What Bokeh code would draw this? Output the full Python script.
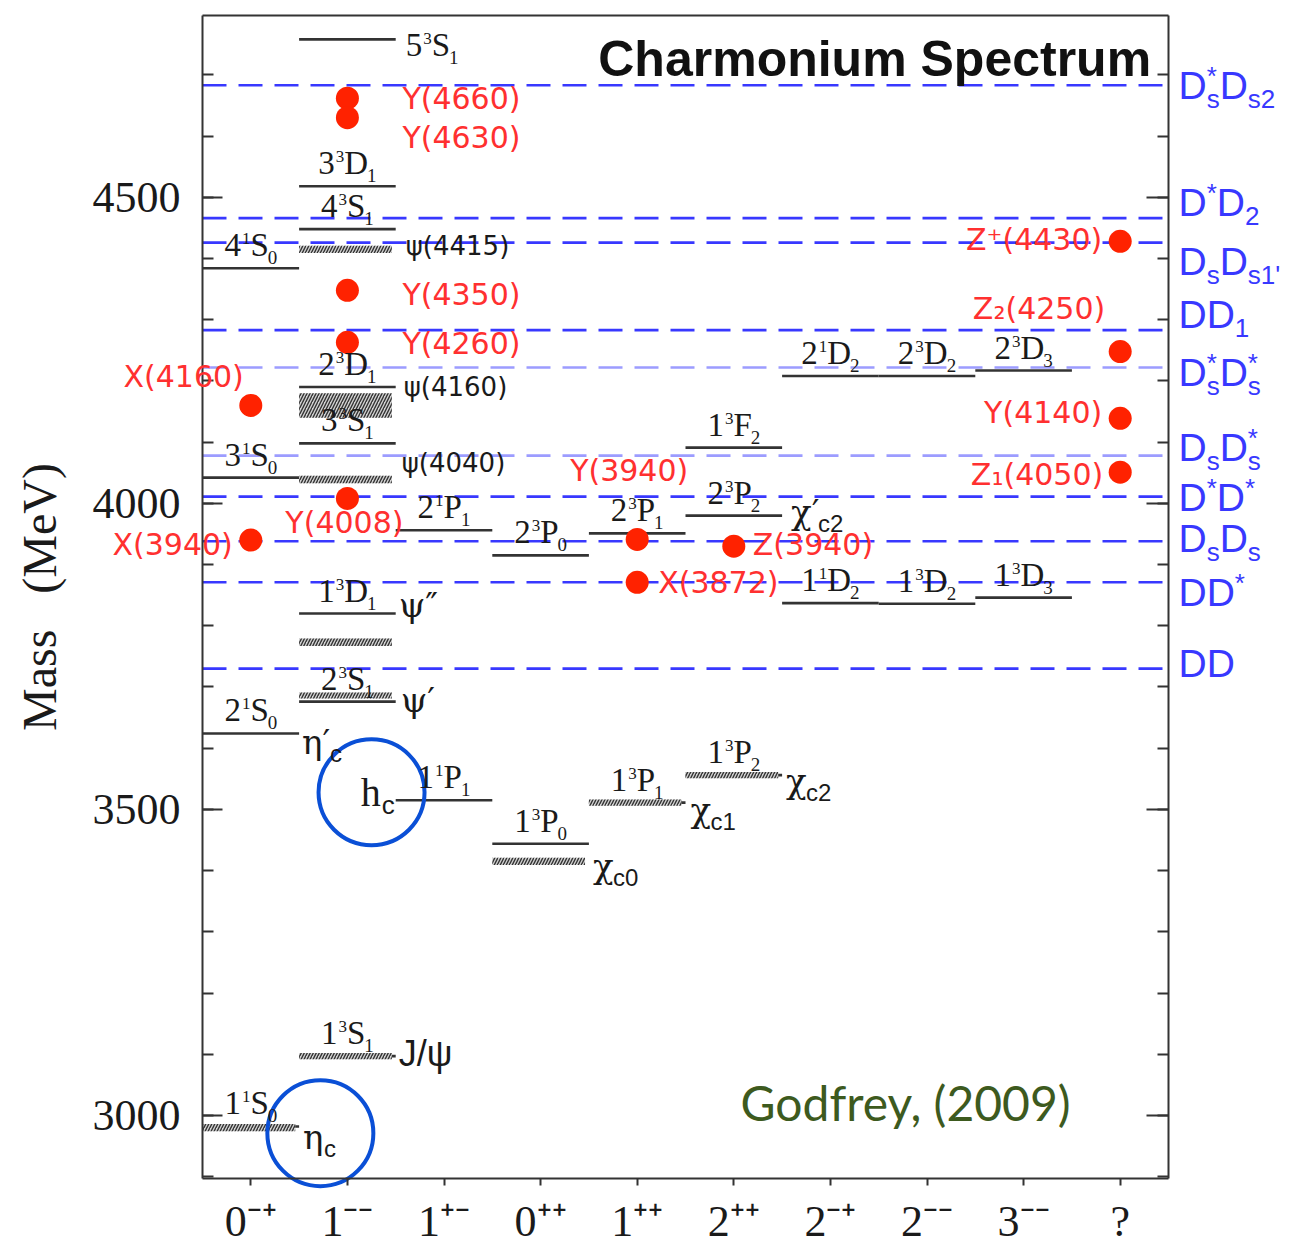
from bokeh.plotting import figure
from bokeh.models import (ColumnDataSource, Range1d, LinearAxis, FixedTicker,
                          SingleIntervalTicker, Label, LabelSet,
                          CustomJSTickFormatter)
from bokeh.core.properties import value
from bokeh.embed import file_html
from bokeh.resources import INLINE

# ---------------- data ----------------
jpc_labels = ["0\u207b\u207a", "1\u207b\u207b", "1\u207a\u207b", "0\u207a\u207a", "1\u207a\u207a",
              "2\u207a\u207a", "2\u207b\u207a", "2\u207b\u207b", "3\u207b\u207b", "?"]

# predicted charmonium levels (solid lines): J^PC column, mass (MeV), n / 2S+1 / L / J
pred_col = [0, 0, 0, 0,
            1, 1, 1, 1, 1, 1, 1, 1,
            2, 2, 3, 3, 4, 4, 5, 5, 5, 6, 6, 7, 7, 8, 8]
pred_mass = [2982, 3624, 4042, 4384,
             3097, 3676, 3820, 4098, 4190, 4448, 4518, 4758,
             3515, 3956, 3444, 3915, 3511, 3951, 3556, 3980, 4091,
             3837, 4208, 3836, 4208, 3846, 4217]
pred_name = ["11S0", "21S0", "31S0", "41S0",
             "13S1", "23S1", "13D1", "33S1", "23D1", "43S1", "33D1", "53S1",
             "11P1", "21P1", "13P0", "23P0", "13P1", "23P1", "13P2", "23P2", "13F2",
             "11D2", "21D2", "13D2", "23D2", "13D3", "23D3"]

# observed conventional states (hatched bands): column, mass, half-width (MeV)
obs_col = [0, 1, 1, 1, 1, 1, 1, 3, 4, 5]
obs_mass = [2980, 3097, 3686, 3773, 4039, 4160, 4415, 3415, 3511, 3556]
obs_hw = [6, 5, 5, 6, 6, 20, 6, 6, 5, 5]

# XYZ states (red points)
xyz_col = [0, 0, 1, 1, 1, 1, 1, 4, 4, 5, 9, 9, 9, 9]
xyz_mass = [4160, 3940, 4662, 4630, 4348, 4263, 4008, 3941, 3871, 3930, 4428, 4248, 4139, 4051]
xyz_name = ["X(4160)", "X(3940)", "Y(4660)", "Y(4630)", "Y(4350)", "Y(4260)", "Y(4008)",
            "Y(3940)", "X(3872)", "Z(3940)", "Z\u207a(4430)", "Z\u2082(4250)", "Y(4140)", "Z\u2081(4050)"]

# open-charm thresholds (dashed lines)
thr_mass = [4683, 4466, 4426, 4283, 4222, 4078, 4011, 3938, 3871, 3730]
thr_name = ["D^*_s D_s2", "D^* D_2", "D_s D_s1'", "D D_1", "D^*_s D^*_s",
            "D_s D^*_s", "D^* D^*", "D_s D_s", "D D^*", "D D"]

# ---------------- geometry ----------------
W, H = 1291, 1249
BOX_X = (-0.5, 9.5)          # plot box in data units
BOX_Y = (2897, 4797)
BOX_PX = (202, 1168, 15, 1178)   # left, right, top, bottom in pixels
PX_X = (BOX_PX[1] - BOX_PX[0]) / (BOX_X[1] - BOX_X[0])
PX_Y = (BOX_PX[3] - BOX_PX[2]) / (BOX_Y[1] - BOX_Y[0])
x_range = Range1d(BOX_X[0] - BOX_PX[0] / PX_X, BOX_X[1] + (W - BOX_PX[1]) / PX_X)
y_range = Range1d(BOX_Y[0] - (H - BOX_PX[3]) / PX_Y, BOX_Y[1] + BOX_PX[2] / PX_Y)

SERIF = "Liberation Serif"
GREEK = "DejaVu Serif"
SANS = "Liberation Sans"
WSANS = "DejaVu Sans"
RED = "#ff3030"
BLUE = "#3838ff"
LIGHTBLUE = "#9c9cff"
INK = "#1a1a1a"
FRAME = "#333333"

p = figure(width=W, height=H, x_range=x_range, y_range=y_range,
           output_backend="svg", toolbar_location=None, x_axis_type=None, y_axis_type=None,
           min_border=0)
p.outline_line_color = None
p.background_fill_color = "white"
p.border_fill_color = "white"


def style_y(ax):
    ax.major_tick_in = 20; ax.major_tick_out = 0
    ax.minor_tick_in = 11; ax.minor_tick_out = 0
    ax.major_tick_line_width = 2; ax.minor_tick_line_width = 2
    ax.major_tick_line_color = FRAME; ax.minor_tick_line_color = FRAME
    ax.axis_line_width = 2; ax.axis_line_color = FRAME


yl = LinearAxis(ticker=SingleIntervalTicker(interval=500, num_minor_ticks=5),
                axis_label="Mass\u00a0\u00a0\u00a0(MeV)", fixed_location=BOX_X[0], bounds=BOX_Y)
style_y(yl)
yl.major_label_text_font = SERIF; yl.major_label_text_font_size = "44px"
yl.major_label_text_color = INK; yl.major_label_standoff = 22
yl.axis_label_text_font = SERIF; yl.axis_label_text_font_size = "48px"
yl.axis_label_text_font_style = "normal"; yl.axis_label_text_color = INK
yl.axis_label_standoff = 24
p.add_layout(yl, "left")

yr = LinearAxis(ticker=SingleIntervalTicker(interval=500, num_minor_ticks=5),
                formatter=CustomJSTickFormatter(code="return ''"),
                fixed_location=BOX_X[1], bounds=BOX_Y)
style_y(yr)
yr.major_tick_in = 22
yr.major_label_standoff = 0
p.add_layout(yr, "right")

xb = LinearAxis(ticker=FixedTicker(ticks=list(range(len(jpc_labels)))),
                major_label_overrides={i: s for i, s in enumerate(jpc_labels)},
                fixed_location=BOX_Y[0], bounds=BOX_X)
xb.major_tick_in = 0; xb.major_tick_out = 7
xb.major_tick_line_width = 2; xb.major_tick_line_color = FRAME
xb.axis_line_width = 2; xb.axis_line_color = FRAME
xb.major_label_text_font = SERIF; xb.major_label_text_font_size = "44px"
xb.major_label_text_color = INK; xb.major_label_standoff = 11
p.add_layout(xb, "below")

# top edge of the box
p.segment(x0=[BOX_X[0]], x1=[BOX_X[1]], y0=[BOX_Y[1]], y1=[BOX_Y[1]],
          line_color=FRAME, line_width=2)

# thresholds (dashed, across the box)
thr_col = [LIGHTBLUE if i in (4, 5) else BLUE for i in range(len(thr_mass))]
p.segment(x0=[BOX_X[0]] * len(thr_mass), x1=[BOX_X[1]] * len(thr_mass),
          y0=thr_mass, y1=thr_mass, line_color=thr_col, line_dash="24 12", line_width=2.6)

# predicted levels
p.segment(x0=[c - 0.5 for c in pred_col], x1=[c + 0.5 for c in pred_col],
          y0=pred_mass, y1=pred_mass, line_color="#333333", line_width=2.6)

# observed bands
p.quad(left=[c - 0.5 for c in obs_col], right=[c + 0.46 for c in obs_col],
       bottom=[m - h for m, h in zip(obs_mass, obs_hw)],
       top=[m + h for m, h in zip(obs_mass, obs_hw)],
       fill_color="#d2d2d2", line_color=None,
       hatch_pattern="/", hatch_color="#333333", hatch_weight=1.4, hatch_scale=6)

# XYZ points
p.scatter(x=xyz_col, y=xyz_mass, size=23, fill_color="#ff2200", line_color=None)

# ---------------- text helpers ----------------
groups = {}


def put(x, y, text, xo, yo, font, size, color=INK, align="left", style="normal"):
    """yo: screen offset, down is positive."""
    key = (font, size, color, align, style)
    g = groups.setdefault(key, dict(x=[], y=[], t=[], xo=[], yo=[]))
    g["x"].append(x); g["y"].append(y); g["t"].append(text)
    g["xo"].append(xo); g["yo"].append(-yo)


SERW = {"S": 0.556, "P": 0.556, "D": 0.722, "F": 0.556}
F_SP, F_SUP, F_SUB = 33, 17, 19

for c, m, nm in zip(pred_col, pred_mass, pred_name):
    n, mult, L, J = nm
    wn, ws, wL = 0.5 * F_SP, 0.5 * F_SUP, SERW[L] * F_SP
    wj = 0.5 * F_SUB
    tot = wn + ws + wL + wj
    if nm == "53S1":
        xa, x0, yb = c + 0.5, 10, 17
    else:
        xa, x0, yb = c, -tot / 2, -12
    put(xa, m, n, x0, yb, SERIF, F_SP)
    put(xa, m, mult, x0 + wn + 1, yb - 12, SERIF, F_SUP)
    put(xa, m, L, x0 + wn + ws + 1, yb, SERIF, F_SP)
    put(xa, m, J, x0 + wn + ws + wL, yb + 8, SERIF, F_SUB)

# meson names: text, sub, anchor x, anchor mass, dx, dy(center), font, size, base width, sub size
mesons = [
    ("\u03c8(4415)", "", 1.5, obs_mass[6], 10, -3, WSANS, 26, 0, 0),
    ("\u03c8(4160)", "", 1.5, pred_mass[8], 8, 0, WSANS, 26, 0, 0),
    ("\u03c8(4040)", "", 1.5, obs_mass[4], 6, -17, WSANS, 26, 0, 0),
    ("\u03c8\u2033", "", 1.5, pred_mass[6], 3, -8, GREEK, 34, 0, 0),
    ("\u03c8\u2032", "", 1.5, obs_mass[2], 5, 5, GREEK, 34, 0, 0),
    ("J/\u03c8", "", 1.5, obs_mass[1], 3, -3, SANS, 36, 0, 0),
    ("\u03b7\u2032", "c", 0.5, pred_mass[1], 3, 9, GREEK, 34, 28, 24),
    ("\u03b7", "c", 0.5, obs_mass[0], 4, 9, GREEK, 34, 21, 24),
    ("h", "c", 1.5, pred_mass[12], -35, -8, SERIF, 40, 21, 26),
    ("\u03c7", "c0", 3.5, obs_mass[7], 4, 5, GREEK, 34, 20, 24),
    ("\u03c7", "c1", 4.5, obs_mass[8], 5, 7, GREEK, 34, 20, 24),
    ("\u03c7", "c2", 5.5, obs_mass[9], 4, 6, GREEK, 34, 20, 24),
    ("\u03c7\u2032", "c2", 5.5, pred_mass[19], 9, -3, GREEK, 34, 27, 24),
]
for txt, sub, xa, m, dx, dy, font, size, w, ssz in mesons:
    base = dy + 0.35 * size
    put(xa, m, txt, dx, base, font, size)
    if sub:
        put(xa, m, sub, dx + w, base + 8, SANS, ssz)

# XYZ labels: align, dx, dy(center)
xyz_lay = [("right", -7, -29), ("right", -18, 4), ("left", 55, 0), ("left", 55, 19),
           ("left", 55, 4), ("left", 55, 1), ("center", -3, 24), ("center", -8, -69),
           ("left", 21, 0), ("left", 19, -2), ("right", -18, -2), ("right", -15, -44),
           ("right", -18, -6), ("right", -17, 2)]
for c, m, nm, (al, dx, dy) in zip(xyz_col, xyz_mass, xyz_name, xyz_lay):
    put(c, m, nm, dx, dy + 11, WSANS, 30, RED, al)

# threshold labels to the right of the box
SANSW = {"D": 0.722, "s": 0.5, "*": 0.389, "1": 0.556, "2": 0.556, "'": 0.191}
F_TH, F_TS = 39, 26
thr_dy = [0, -16, 18, -16, 5, -9, 0, -3, 10, -6]
for m, nm, dy in zip(thr_mass, thr_name, thr_dy):
    x = 10
    base = dy + 14
    for unit in nm.split(" "):
        sub = ""; sup = ""
        body = unit
        if "_" in body:
            body, sub = body.split("_")
        if "^" in body:
            body, sup = body.split("^")
        put(BOX_X[1], m, body, x, base, SANS, F_TH, BLUE)
        x += sum(SANSW[ch] for ch in body) * F_TH
        wsup = sum(SANSW[ch] for ch in sup) * F_TS
        wsub = sum(SANSW[ch] for ch in sub) * F_TS
        if sup:
            put(BOX_X[1], m, sup, x, base - 14, SANS, F_TS, BLUE)
        if sub:
            put(BOX_X[1], m, sub, x, base + 9, SANS, F_TS, BLUE)
        x += max(wsup, wsub)

for (font, size, color, align, style), g in groups.items():
    src = ColumnDataSource(g)
    p.add_layout(LabelSet(x="x", y="y", text="t", x_offset="xo", y_offset="yo", source=src,
                          text_font=value(font), text_font_size=f"{size}px",
                          text_color=color, text_align=align, text_baseline="alphabetic",
                          text_font_style=style))

# title and credit
p.add_layout(Label(x=9.32, y=4680, text="Charmonium Spectrum", text_align="right",
                   text_font=SANS, text_font_style="bold", text_font_size="50px",
                   text_color="#111111"))
p.add_layout(Label(x=5.07, y=2975, text="Godfrey, (2009)", text_font="Lato",
                   text_font_size="48px", text_color="#3d5a1e"))

# highlight circles around h_c and eta_c
p.scatter(x=[1.25, 0.72], y=[3528, 2971], size=106, marker="circle",
          fill_color=None, line_color="#0a4fd6", line_width=4)

open("out.html", "w").write(file_html(p, INLINE))
